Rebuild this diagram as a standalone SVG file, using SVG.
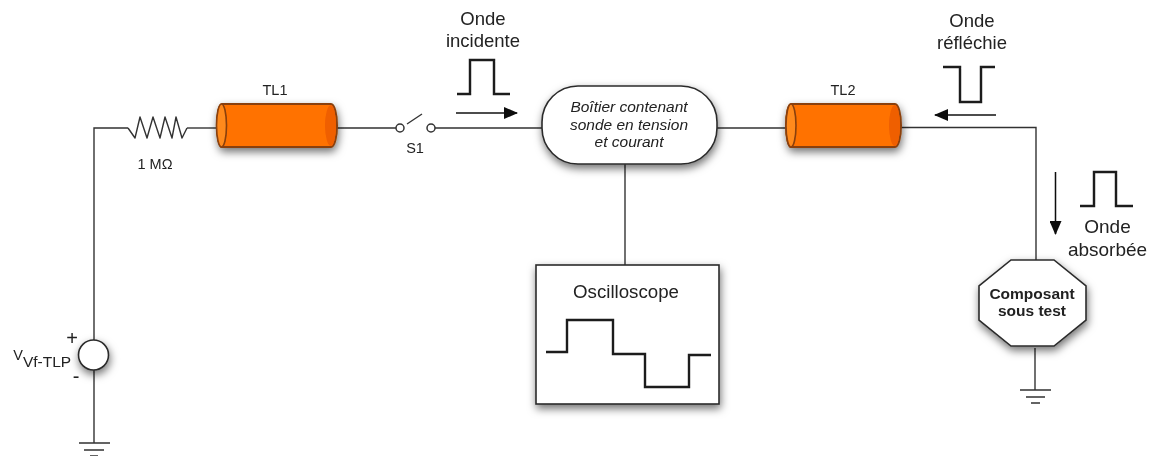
<svg xmlns="http://www.w3.org/2000/svg" width="1151" height="457" viewBox="0 0 1151 457">
<style>
text{font-family:"Liberation Sans",Arial,sans-serif;fill:#222;text-anchor:middle}
.w{fill:none;stroke:#333;stroke-width:1.4}
.p{fill:none;stroke:#1a1a1a;stroke-width:2.4}
.a{fill:none;stroke:#111;stroke-width:1.5}
.l{font-size:18.5px}
.s{font-size:14.5px}
.b{fill:#fff;stroke:#2b2b2b;stroke-width:1.6;filter:url(#sh)}
.tube{fill:#ff7200;stroke:#8a3f0a;stroke-width:2}
.end{fill:#ff8a1e;stroke:#8a3f0a;stroke-width:1.6}
.cap{fill:#ef5e00}
</style>
<defs>
<filter id="sh" x="-60%" y="-60%" width="220%" height="220%"><feDropShadow dx="1" dy="4" stdDeviation="4" flood-color="#000" flood-opacity=".55"/></filter>
<filter id="soft" x="0" y="0" width="100%" height="100%"><feGaussianBlur stdDeviation="0.4"/></filter>
<marker id="ah" markerWidth="14" markerHeight="12" refX="13" refY="6" orient="auto" markerUnits="userSpaceOnUse"><path d="M0 0L14 6L0 12z" fill="#111"/></marker>
</defs>
<rect width="1151" height="457" fill="#fff"/>
<g filter="url(#soft)">
<g id="connectors">
<path class="w" d="M128 128H94V342M94 370V443"/>
<path class="w" d="M187 128H217"/>
<path class="w" d="M337 128H396M435 128H542"/>
<path class="w" d="M717 128H786"/>
<path class="w" d="M901 127.500H1036V260"/>
<path class="w" d="M625 164V265"/>
<path class="w" d="M1035 348V390"/>
<path class="a" d="M456 113H517" marker-end="url(#ah)"/>
<path class="a" d="M996 115H935" marker-end="url(#ah)"/>
<path class="a" d="M1055.500 172V234" marker-end="url(#ah)"/>
</g>
<g id="resistor">
<path class="w" d="M128 128L135 138L140 117L147 138L153 117L160 138L165 117L172 138L176 117L182 138L187 128" stroke-linejoin="round"/>
<text class="s" x="155" y="169">1 MΩ</text>
</g>
<g id="tl1">
<g filter="url(#sh)"><path class="tube" d="M222 104H331A6 21.500 0 0 1 331 147H222A5 21.500 0 0 1 222 104z"/></g>
<path class="cap" d="M331 105A5 20.500 0 0 1 331 146A6 20.500 0 0 1 331 105z"/>
<ellipse class="end" cx="221.500" cy="125.500" rx="5" ry="21.500"/>
<text class="s" x="275" y="95">TL1</text>
</g>
<g id="s1">
<circle class="w" cx="400" cy="128" r="4" style="stroke-width:1.5"/>
<circle class="w" cx="431" cy="128" r="4" style="stroke-width:1.5"/>
<path class="w" d="M407 124L422 114"/>
<text class="s" x="415" y="153">S1</text>
</g>
<g id="boitier">
<rect class="b" x="542" y="86" width="175" height="78" rx="36" ry="36"/>
<text font-size="15.500" font-style="italic"><tspan x="629" y="112">Boîtier contenant</tspan><tspan x="629" y="130">sonde en tension</tspan><tspan x="629" y="147">et courant</tspan></text>
</g>
<g id="tl2">
<g filter="url(#sh)"><path class="tube" d="M791 104H895A6 21.500 0 0 1 895 147H791A5 21.500 0 0 1 791 104z"/></g>
<path class="cap" d="M895 105A5 20.500 0 0 1 895 146A6 20.500 0 0 1 895 105z"/>
<ellipse class="end" cx="791" cy="125.500" rx="5" ry="21.500"/>
<text class="s" x="843" y="95">TL2</text>
</g>
<g id="oscilloscope">
<rect class="b" x="536" y="265" width="183" height="139"/>
<text font-size="18.700" x="626" y="298">Oscilloscope</text>
<path class="p" d="M546 352H567V320H613V354H645V387H689V355H711"/>
</g>
<g id="composant">
<path class="b" d="M1011 260H1054L1086 286V320L1054 346H1011L979 320V286z"/>
<text font-size="15.500" font-weight="bold"><tspan x="1032" y="299">Composant</tspan><tspan x="1032" y="316">sous test</tspan></text>
</g>
<g id="source">
<circle class="b" cx="93.500" cy="355" r="15"/>
<text font-size="20" x="72" y="345">+</text>
<text font-size="20" x="76" y="383">-</text>
<text x="18" y="360" font-size="14.500">V</text>
<text x="47" y="367" font-size="15.500">Vf-TLP</text>
</g>
<g id="ground1">
<path class="w" d="M79 443H110M84 450H104M90 456H98"/>
</g>
<g id="ground2">
<path class="w" d="M1020 390H1051M1026 397H1045M1031 403H1040"/>
</g>
<g id="onde-incidente">
<text class="l"><tspan x="483" y="25">Onde</tspan><tspan x="483" y="47">incidente</tspan></text>
<path class="p" d="M457 94H470V60H494V94H510"/>
</g>
<g id="onde-reflechie">
<text class="l"><tspan x="972" y="27">Onde</tspan><tspan x="972" y="49">réfléchie</tspan></text>
<path class="p" d="M943 67H960V102H981V67H995"/>
</g>
<g id="onde-absorbee">
<text font-size="19"><tspan x="1107.500" y="233">Onde</tspan><tspan x="1107.500" y="256">absorbée</tspan></text>
<path class="p" d="M1080 206H1094V172H1116V206H1133"/>
</g>
</g>
</svg>
